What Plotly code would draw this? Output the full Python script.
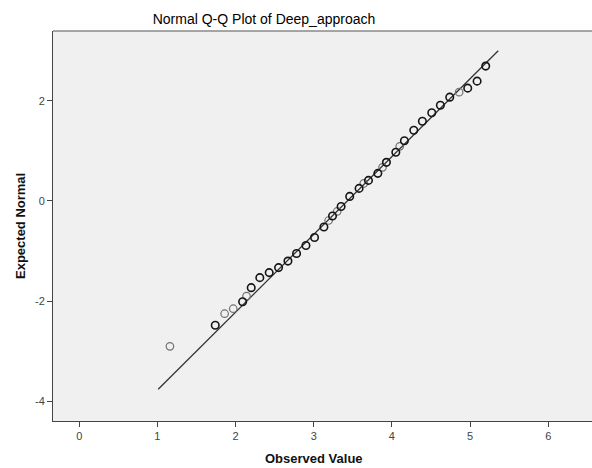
import plotly.graph_objects as go

obs_dark = [1.74, 2.09, 2.20, 2.31, 2.43, 2.55, 2.67, 2.78, 2.90, 3.01, 3.13, 3.24,
            3.35, 3.46, 3.58, 3.70, 3.82, 3.93, 4.05, 4.16, 4.28, 4.39, 4.51, 4.62,
            4.74, 4.97, 5.09, 5.20]
exp_dark = [-2.48, -2.01, -1.73, -1.53, -1.43, -1.33, -1.20, -1.05, -0.89, -0.73, -0.52, -0.30,
            -0.11, 0.09, 0.25, 0.41, 0.55, 0.77, 0.97, 1.20, 1.41, 1.59, 1.76, 1.91,
            2.07, 2.25, 2.39, 2.69]
obs_light = [1.16, 1.86, 1.97, 2.14, 3.19, 3.30, 3.64, 3.88, 4.10, 4.86]
exp_light = [-2.90, -2.25, -2.15, -1.90, -0.39, -0.21, 0.35, 0.67, 1.09, 2.17]

# Reference line (normal with estimated mean/sd)
line_mean = 3.43
line_sd = 0.644
line_obs = [1.01, 5.36]
line_exp = [(v - line_mean) / line_sd for v in line_obs]

x_ticks = [0, 1, 2, 3, 4, 5, 6]
y_ticks = [-4, -2, 0, 2]
y_tick_labels = ["-4", "-2", "0", "2"]

W, H = 592, 468
L, R, T, B = 53, 0, 31, 47

fig = go.Figure()
fig.add_trace(go.Scatter(x=line_obs, y=line_exp, mode="lines",
                         line=dict(color="#333333", width=1.3), hoverinfo="skip",
                         showlegend=False))
fig.add_trace(go.Scatter(x=obs_light, y=exp_light, mode="markers",
                         marker=dict(symbol="circle-open", size=7.5, color="#707070",
                                     line=dict(width=1.2, color="#707070")),
                         showlegend=False))
fig.add_trace(go.Scatter(x=obs_dark, y=exp_dark, mode="markers",
                         marker=dict(symbol="circle-open", size=7.5, color="#151515",
                                     line=dict(width=1.6, color="#151515")),
                         showlegend=False))

font_family = "Liberation Sans, Arial, sans-serif"

pw = W - L - R
ph = H - T - B

fig.update_layout(
    width=W, height=H,
    margin=dict(l=L, r=R, t=T, b=B, pad=0),
    paper_bgcolor="white",
    plot_bgcolor="#f0f0f0",
    font=dict(family=font_family, size=11, color="#333333"),
    title=dict(text="Normal Q-Q Plot of Deep_approach", x=264 / W, xref="container",
               xanchor="center", y=1 - 19 / H, yref="container", yanchor="middle",
               font=dict(size=14, color="#000000", family=font_family)),
    xaxis=dict(range=[-0.336, 6.56], tickvals=x_ticks, ticks="outside", ticklen=5,
               tickcolor="#444444", tickwidth=1, showgrid=False, zeroline=False,
               showline=True, linecolor="#444444", linewidth=1,
               tickfont=dict(size=11, color="#444444")),
    yaxis=dict(range=[-4.39, 3.39], tickvals=y_ticks, ticktext=y_tick_labels,
               ticks="outside", ticklen=5,
               tickcolor="#444444", tickwidth=1, showgrid=False, zeroline=False,
               showline=True, linecolor="#444444", linewidth=1,
               tickfont=dict(size=11, color="#444444")),
    annotations=[
        dict(text="<b>Observed Value</b>", x=(314 - L) / pw, y=(H - B - 458) / ph,
             xref="paper", yref="paper", showarrow=False,
             font=dict(size=13, color="#111111"),
             xanchor="center", yanchor="middle"),
        dict(text="<b>Expected Normal</b>", x=(20 - L) / pw, y=(H - B - 226) / ph,
             xref="paper", yref="paper", showarrow=False,
             textangle=-90, font=dict(size=13, color="#111111"),
             xanchor="center", yanchor="middle"),
    ],
    shapes=[dict(type="line", xref="paper", yref="paper", x0=0, x1=1, y0=1, y1=1,
                 line=dict(color="#8a8a8a", width=1.5))],
)

fig.write_html("out.html", config={"displayModeBar": False},
               post_script="document.body.style.margin='0';document.body.style.overflow='hidden';")
